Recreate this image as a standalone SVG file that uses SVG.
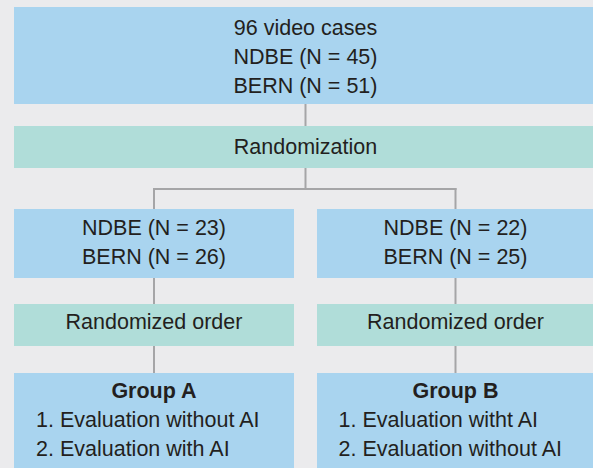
<svg xmlns="http://www.w3.org/2000/svg" width="593" height="468" viewBox="0 0 593 468">
<style>
.bg{fill:#ebebed}
.blue{fill:#a9d4ef}
.teal{fill:#b0ddd9}
text{font-family:"Liberation Sans",Arial,sans-serif;font-size:21.5px;fill:#231f20}
.c{text-anchor:middle}
.b{font-weight:bold}
.conn line{stroke:#a5a5a7;stroke-width:2;fill:none}
</style>
<rect class="bg" x="0" y="0" width="593" height="468"/>
<g class="conn" id="connectors">
<line x1="305.5" y1="104" x2="305.5" y2="126"/>
<line x1="305.5" y1="168" x2="305.5" y2="189"/>
<line x1="153" y1="189" x2="456.5" y2="189"/>
<line x1="154" y1="188" x2="154" y2="209"/>
<line x1="455.5" y1="188" x2="455.5" y2="209"/>
<line x1="154" y1="278" x2="154" y2="304"/>
<line x1="455.5" y1="278" x2="455.5" y2="304"/>
<line x1="154" y1="346" x2="154" y2="373"/>
<line x1="455.5" y1="346" x2="455.5" y2="373"/>
</g>
<g id="cases">
<rect class="blue" x="14" y="7" width="579" height="97"/>
<text class="c" x="305.5" y="34.5">96 video cases</text>
<text class="c" x="305.5" y="63.5">NDBE (N = 45)</text>
<text class="c" x="305.5" y="92.5">BERN (N = 51)</text>
</g>
<g id="randomization">
<rect class="teal" x="14" y="126" width="579" height="42"/>
<text class="c" x="305.5" y="154">Randomization</text>
</g>
<g id="armA">
<rect class="blue" x="14" y="209" width="280" height="69"/>
<text class="c" x="154" y="234.5">NDBE (N = 23)</text>
<text class="c" x="154" y="263.5">BERN (N = 26)</text>
</g>
<g id="armB">
<rect class="blue" x="317" y="209" width="276" height="69"/>
<text class="c" x="455.5" y="234.5">NDBE (N = 22)</text>
<text class="c" x="455.5" y="263.5">BERN (N = 25)</text>
</g>
<g id="orderA">
<rect class="teal" x="14" y="304" width="280" height="42"/>
<text class="c" x="154" y="329">Randomized order</text>
</g>
<g id="orderB">
<rect class="teal" x="317" y="304" width="276" height="42"/>
<text class="c" x="455.5" y="329">Randomized order</text>
</g>
<g id="groupA">
<rect class="blue" x="14" y="373" width="280" height="95"/>
<text class="c b" x="154" y="398">Group A</text>
<text x="36" y="427">1. Evaluation without AI</text>
<text x="36" y="456">2. Evaluation with AI</text>
</g>
<g id="groupB">
<rect class="blue" x="317" y="373" width="276" height="95"/>
<text class="c b" x="455.5" y="398">Group B</text>
<text x="338.5" y="427">1. Evaluation witht AI</text>
<text x="338.5" y="456">2. Evaluation without AI</text>
</g>
</svg>
